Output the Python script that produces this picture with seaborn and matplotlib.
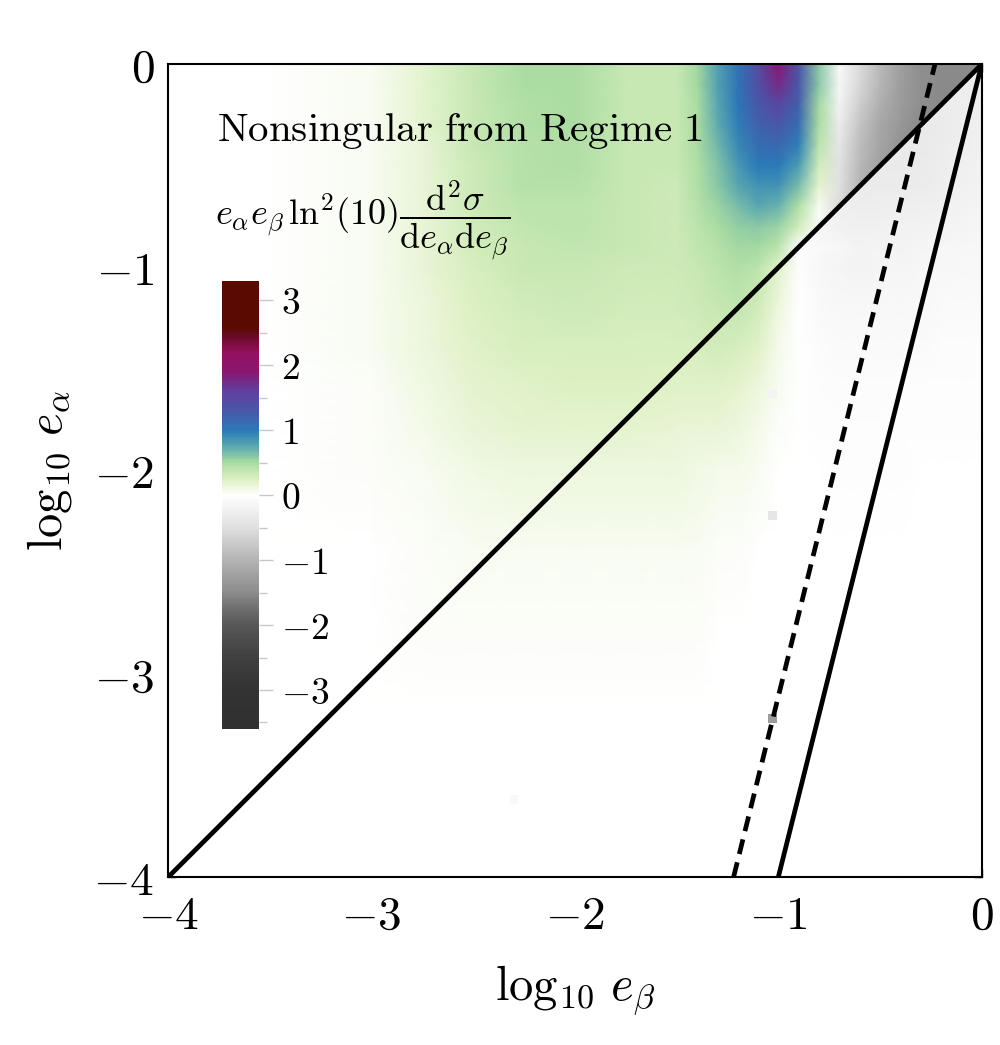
import numpy as np
import matplotlib
matplotlib.use("Agg")
import matplotlib.pyplot as plt
import seaborn as sns
from matplotlib.colors import LinearSegmentedColormap, Normalize
from matplotlib.patches import Polygon
from matplotlib.ticker import MultipleLocator

# === Data: grid nodes (log10 e_beta across, log10 e_alpha down) ===
x_nodes = [-4.0, -3.5, -3.0, -2.75, -2.5, -2.25, -2.0, -1.75, -1.5, -1.4, -1.3, -1.2,
           -1.1, -1.0, -0.9, -0.8, -0.7, -0.6, -0.5, -0.4, -0.3, -0.2, -0.1, 0.0]
y_nodes = [0.0, -0.1, -0.2, -0.3, -0.4, -0.5, -0.6, -0.7, -0.8, -0.9, -1.0,
           -1.2, -1.4, -1.6, -1.8, -2.0, -2.4, -2.8, -3.2, -3.6, -4.0]

# e_a e_b ln^2(10) d2sigma / (de_a de_b), one row per y node
sigma_rows = [
    [0, 0, 0.05, 0.18, 0.35, 0.47, 0.48, 0.36, 0.34, 0.50, 0.78, 1.05, 1.45, 1.90, 1.35, 0.60, -0.10, -0.55, -0.95, -1.25, -1.45, -1.50, -1.50, -1.50],
    [0, 0, 0.05, 0.18, 0.35, 0.47, 0.48, 0.36, 0.34, 0.50, 0.77, 1.05, 1.40, 1.75, 1.30, 0.58, -0.15, -0.60, -0.97, -1.27, -1.45, -1.50, -1.50, -1.50],
    [0, 0, 0.05, 0.18, 0.35, 0.46, 0.48, 0.36, 0.34, 0.49, 0.75, 1.02, 1.30, 1.50, 1.20, 0.52, -0.20, -0.70, -1.05, -1.30, -1.47, -1.50, -1.50, -1.50],
    [0, 0, 0.05, 0.18, 0.34, 0.45, 0.47, 0.36, 0.34, 0.48, 0.72, 0.98, 1.20, 1.30, 1.10, 0.47, -0.30, -0.80, -1.15, -1.35, -1.50, -1.50, -1.50, -1.50],
    [0, 0, 0.05, 0.17, 0.34, 0.44, 0.46, 0.36, 0.34, 0.47, 0.68, 0.92, 1.10, 1.15, 0.97, 0.40, -0.40, -0.90, -1.20, -1.40, -1.50, -1.50, -1.50, -1.50],
    [0, 0, 0.05, 0.17, 0.33, 0.43, 0.45, 0.36, 0.34, 0.46, 0.63, 0.84, 1.00, 1.00, 0.82, 0.30, -0.45, -0.95, -1.25, -1.42, -1.50, -1.50, -1.50, -1.50],
    [0, 0, 0.05, 0.17, 0.32, 0.42, 0.43, 0.35, 0.33, 0.45, 0.58, 0.74, 0.86, 0.86, 0.65, 0.18, -0.50, -1.00, -1.30, -1.45, -1.50, -1.50, -1.50, -1.50],
    [0, 0, 0.05, 0.16, 0.31, 0.40, 0.41, 0.35, 0.33, 0.43, 0.53, 0.64, 0.74, 0.70, 0.46, 0.05, -0.55, -1.05, -1.30, -1.45, -1.50, -1.50, -1.50, -1.50],
    [0, 0, 0.05, 0.16, 0.30, 0.38, 0.39, 0.34, 0.33, 0.41, 0.48, 0.56, 0.60, 0.55, 0.30, -0.05, -0.60, -1.05, -1.30, -1.45, -1.50, -1.50, -1.50, -1.50],
    [0, 0, 0.05, 0.15, 0.29, 0.36, 0.37, 0.34, 0.32, 0.38, 0.44, 0.50, 0.50, 0.40, -0.02, -0.08, -0.14, -0.20, -0.19, -0.18, -0.17, -0.15, -0.13, -0.12],
    [0, 0, 0.05, 0.15, 0.28, 0.34, 0.35, 0.33, 0.32, 0.36, 0.40, 0.45, 0.40, 0.22, -0.04, -0.12, -0.17, -0.18, -0.17, -0.16, -0.14, -0.13, -0.12, -0.10],
    [0, 0, 0.04, 0.13, 0.25, 0.30, 0.31, 0.30, 0.30, 0.32, 0.36, 0.38, 0.30, 0.12, 0.00, -0.09, -0.12, -0.12, -0.12, -0.11, -0.10, -0.09, -0.08, -0.07],
    [0, 0, 0.04, 0.12, 0.21, 0.26, 0.27, 0.27, 0.27, 0.28, 0.29, 0.28, 0.22, 0.08, 0.00, -0.06, -0.08, -0.08, -0.08, -0.07, -0.07, -0.06, -0.05, -0.05],
    [0, 0, 0.03, 0.10, 0.18, 0.22, 0.23, 0.23, 0.22, 0.22, 0.21, 0.20, 0.14, 0.04, 0.00, -0.04, -0.05, -0.05, -0.05, -0.04, -0.04, -0.04, -0.03, -0.03],
    [0, 0, 0.03, 0.08, 0.15, 0.18, 0.19, 0.19, 0.17, 0.17, 0.15, 0.13, 0.08, 0.02, 0.00, -0.02, -0.03, -0.03, -0.03, -0.03, -0.02, -0.02, -0.02, -0.02],
    [0, 0, 0.02, 0.06, 0.11, 0.13, 0.14, 0.14, 0.12, 0.11, 0.09, 0.07, 0.04, 0.01, 0.00, -0.01, -0.02, -0.02, -0.02, -0.02, -0.01, -0.01, -0.01, -0.01],
    [0, 0, 0.01, 0.03, 0.045, 0.05, 0.05, 0.05, 0.045, 0.04, 0.03, 0.02, 0.01, 0.005, 0, 0, -0.01, -0.01, -0.01, -0.01, 0, 0, 0, 0],
    [0, 0, 0.005, 0.012, 0.018, 0.02, 0.02, 0.02, 0.015, 0.012, 0.01, 0.005, 0, 0, 0, 0, 0, 0, 0, 0, 0, 0, 0, 0],
    [0, 0, 0, 0.004, 0.007, 0.008, 0.008, 0.008, 0.005, 0.004, 0.002, 0, 0, 0, 0, 0, 0, 0, 0, 0, 0, 0, 0, 0],
    [0, 0, 0, 0, 0.002, 0.003, 0.003, 0.002, 0, 0, 0, 0, 0, 0, 0, 0, 0, 0, 0, 0, 0, 0, 0, 0],
    [0, 0, 0, 0, 0, 0, 0, 0, 0, 0, 0, 0, 0, 0, 0, 0, 0, 0, 0, 0, 0, 0, 0, 0],
]

# corner just below the diagonal (light grey side of the jump)
corner_x = [-0.9, -0.6, -0.3, 0.0]
corner_y = [0.0, -0.3, -0.6, -0.9]
corner_vals = [
    [-0.30, -0.30, -0.30, -0.28],
    [-0.30, -0.35, -0.35, -0.25],
    [-0.30, -0.32, -0.30, -0.20],
    [-0.02, -0.20, -0.17, -0.12],
]

# isolated noisy cells
spot_x = [-1.03, -1.03, -1.03, -2.30]
spot_y = [-1.62, -2.22, -3.22, -3.62]
spot_v = [-0.20, -0.40, -1.30, -0.10]

# reference lines
diag_x = [-4.0, 0.0]
diag_y = [-4.0, 0.0]
steep_x = [-1.0, 0.0]
steep_y = [-4.0, 0.0]
dash_x = [-1.22, -0.23]
dash_y = [-4.0, 0.0]

# colour scale
vmin, vmax = -3.6, 3.3
cmap_vals = [-3.6, -3.0, -2.5, -2.0, -1.75, -1.5, -1.0, -0.5, 0.0, 0.1, 0.25, 0.5,
             0.75, 1.0, 1.3, 1.6, 1.9, 2.2, 2.45, 2.6, 3.3]
cmap_cols = ['#303030', '#333333', '#404040', '#585858', '#6e6e6e', '#8c8c8c', '#b4b4b4',
             '#e0e0e0', '#ffffff', '#f2f9e6', '#dcf0c0', '#a8dca0', '#5aa8b0', '#2a7ab8',
             '#4858a8', '#6040a0', '#881870', '#941060', '#6a0a28', '#5a0a00', '#5a0a00']
cbar_ticks = [-3, -2, -1, 0, 1, 2, 3]
axis_ticks = [-4, -3, -2, -1, 0]

# === Style ===
sns.set_style("ticks")
plt.rcParams.update({
    "mathtext.fontset": "cm",
    "font.family": ["DejaVu Serif"],
    "axes.linewidth": 1.5,
    "axes.edgecolor": "black",
    "axes.labelcolor": "black",
    "text.color": "black",
    "xtick.color": "black",
    "ytick.color": "black",
})

pos = [(v - vmin) / (vmax - vmin) for v in cmap_vals]
cmap = LinearSegmentedColormap.from_list("regime", list(zip(pos, cmap_cols)))
norm = Normalize(vmin=vmin, vmax=vmax)

fig = plt.figure(figsize=(10, 10.45), dpi=100)
ax = fig.add_axes([0.1683, 0.1608, 0.8134, 0.7777])

# === Field ===
X, Y = np.meshgrid(x_nodes, y_nodes)
mesh = ax.pcolormesh(X, Y, np.array(sigma_rows), cmap=cmap, norm=norm, shading="gouraud")

CX, CY = np.meshgrid(corner_x, corner_y)
corner = ax.pcolormesh(CX, CY, np.array(corner_vals), cmap=cmap, norm=norm, shading="gouraud")
clip = Polygon([(corner_x[0], corner_y[-1]), (corner_x[-1], corner_y[0]),
                (corner_x[-1], corner_y[-1])], closed=True, transform=ax.transData)
corner.set_clip_path(clip)

ax.scatter(spot_x, spot_y, c=spot_v, cmap=cmap, norm=norm, marker="s", s=40, linewidths=0)

# === Lines ===
sns.lineplot(x=diag_x, y=diag_y, color="black", lw=3.4, sort=False, ax=ax)
sns.lineplot(x=steep_x, y=steep_y, color="black", lw=3.4, sort=False, ax=ax)
sns.lineplot(x=dash_x, y=dash_y, color="black", lw=3.4, sort=False, ax=ax,
             linestyle=(0, (3.2, 1.8)))

ax.set_xlim(-4, 0)
ax.set_ylim(-4, 0)
ax.set_xticks(axis_ticks)
ax.set_yticks(axis_ticks)
ax.set_xticklabels([rf"${v}$" for v in axis_ticks])
ax.set_yticklabels([rf"${v}$" for v in axis_ticks])
ax.xaxis.set_minor_locator(MultipleLocator(0.2))
ax.yaxis.set_minor_locator(MultipleLocator(0.2))
ax.tick_params(which="both", direction="in", top=True, right=True, width=1.0,
               color="black", labelsize=34)
ax.tick_params(which="major", length=6)
ax.tick_params(which="minor", length=4)
ax.tick_params(axis="x", pad=12)
ax.tick_params(axis="y", pad=10)
ax.set_xlabel(r"$\log_{10}\,e_\beta$", fontsize=35, labelpad=18)
ax.set_ylabel(r"$\log_{10}\,e_\alpha$", fontsize=35, labelpad=14)

ax.text(0.06, 0.918, r"$\mathrm{Nonsingular\ from\ Regime\ 1}$", transform=ax.transAxes,
        fontsize=29.5, ha="left", va="center")
ax.text(0.058, 0.808,
        r"$e_\alpha e_\beta\,\mathrm{ln}^2(10)\dfrac{\mathrm{d}^2\sigma}{\mathrm{d}e_\alpha\mathrm{d}e_\beta}$",
        transform=ax.transAxes, fontsize=26, ha="left", va="center")

# === Colour bar ===
cax = fig.add_axes([0.222, 0.3024, 0.037, 0.4287])
cb = fig.colorbar(mesh, cax=cax)
cb.outline.set_visible(False)
cb.set_ticks(cbar_ticks)
cb.set_ticklabels([rf"${v}$" for v in cbar_ticks])
cb.ax.yaxis.set_minor_locator(MultipleLocator(0.5))
cb.ax.tick_params(which="both", direction="out", color="#c8c8c8", width=1.0,
                  labelsize=27, labelcolor="black", pad=6)
cb.ax.tick_params(which="major", length=10)
cb.ax.tick_params(which="minor", length=6)

fig.savefig("out.png", dpi=100)
